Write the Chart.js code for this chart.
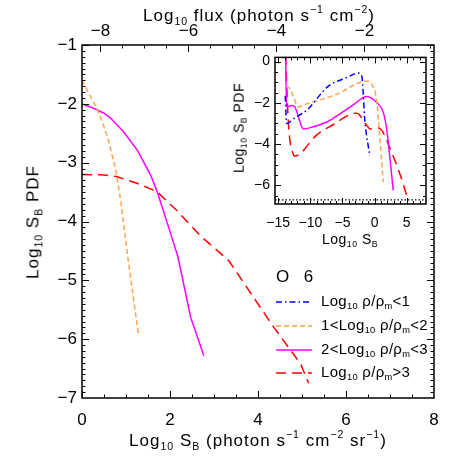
<!DOCTYPE html>
<html>
<head>
<meta charset="utf-8">
<script src="https://cdn.jsdelivr.net/npm/chart.js@4.4.1/dist/chart.umd.min.js"></script>
<style>
  body { margin: 0; background: #fff; }
  #wrap { position: relative; width: 458px; height: 458px; font-family: "Liberation Sans", Arial, sans-serif; color: #000; }
  canvas { position: absolute; }
  #main { left: 0; top: 0; }
  #inset { left: 228px; top: 44px; }
  .lbl { position: absolute; white-space: nowrap; font-size: 17px; line-height: 1; letter-spacing: 1px; }
  .lbl.small { font-size: 14px; letter-spacing: 0.5px; }
  .lbl.leg { font-size: 15px; letter-spacing: 0.3px; transform: translateY(-50%); }
  .lbl sub { font-size: 0.62em; vertical-align: -0.35em; }
  .lbl sup { font-size: 0.62em; vertical-align: 0.75em; }
  .ctr { transform: translate(-50%, -50%); }
  .rot { transform: translate(-50%, -50%) rotate(-90deg); }
</style>
</head>
<body>
<div id="wrap">
  <canvas id="main" width="458" height="458"></canvas>
  <canvas id="inset" width="210" height="190"></canvas>

  <div class="lbl ctr" style="left:259px; top:15px;">Log<sub>10</sub> flux (photon s<sup>−1</sup> cm<sup>−2</sup>)</div>
  <div class="lbl ctr" style="left:258px; top:440px;">Log<sub>10</sub> S<sub>B</sub> (photon s<sup>−1</sup> cm<sup>−2</sup> sr<sup>−1</sup>)</div>
  <div class="lbl rot" style="left:34px; top:222px;">Log<sub>10</sub> S<sub>B</sub> PDF</div>

  <div class="lbl small rot" style="left:240px; top:128px;">Log<sub>10</sub> S<sub>B</sub> PDF</div>
  <div class="lbl small ctr" style="left:350px; top:240px;">Log<sub>10</sub> S<sub>B</sub></div>

  <div class="lbl ctr" style="left:283px; top:276px;">O</div>
  <div class="lbl ctr" style="left:309px; top:276px;">6</div>
  <div id="legend"></div>
</div>

<script>
// ---- main panel (Log10 S_B vs Log10 PDF) ----
const mainSbOrange  = [0, 0.15, 0.3, 0.45, 0.6, 0.77, 0.88, 1.04, 1.15, 1.28];
const mainPdfOrange = [-1.6, -1.82, -2.02, -2.28, -2.62, -3.13, -3.64, -4.6, -5.2, -5.9];

const mainSbMagenta  = [0, 0.25, 0.5, 0.66, 0.95, 1.26, 1.56, 1.72, 1.97, 2.18, 2.47, 2.77];
const mainPdfMagenta = [-2.0, -2.07, -2.16, -2.25, -2.48, -2.79, -3.21, -3.52, -4.1, -4.6, -5.63, -6.28];

const mainSbRed  = [0, 0.5, 0.8, 1.25, 1.7, 2.15, 2.7, 3.33, 3.8, 4.36, 4.97, 5.15];
const mainPdfRed = [-3.2, -3.21, -3.24, -3.35, -3.49, -3.81, -4.25, -4.66, -5.18, -5.8, -6.42, -6.75];

// ---- inset (full S_B range) ----
const insetSbBlue  = [-13.9, -13.7, -12.4, -10.6, -7.2, -4.5, -2.55, -2.0, -1.5, -0.73];
const insetPdfBlue = [-1.66, -3.0, -2.72, -2.37, -1.19, -0.8, -0.56, -0.71, -2.92, -4.58];

const insetSbOrange  = [-13.8, -13.2, -12.5, -11.9, -11.0, -6.0, -1.24, -0.46, 0.32, 0.8, 1.34];
const insetPdfOrange = [-1.2, -1.3, -1.8, -2.2, -2.1, -1.6, -0.95, -1.1, -1.9, -3.6, -5.84];

const insetSbMagenta  = [-13.85, -13.7, -12.9, -12.4, -11.35, -11.1, -9.54, -7.46, -5.39, -3.32, -1.24, 0.32, 1.34, 1.87, 2.38, 2.9];
const insetPdfMagenta = [0.3, -2.2, -2.13, -2.21, -3.16, -3.27, -3.16, -2.93, -2.53, -2.1, -1.69, -1.98, -2.45, -3.24, -4.66, -6.24];

const insetSbRed  = [-13.85, -13.43, -12.65, -12.4, -9.0, -6.4, -3.57, -2.8, -1.24, -0.73, 0.32, 1.09, 2.38, 3.94, 5.23];
const insetPdfRed = [0.3, -2.92, -4.5, -4.58, -3.55, -3.05, -2.53, -2.5, -3.08, -3.27, -3.21, -3.32, -4.19, -5.45, -6.71];

const floorLevel = -6.7;

// ---- tick labels ----
const sbTicks      = [0, 2, 4, 6, 8];
const fluxTicks    = [-8, -6, -4, -2];
const pdfTicks     = [-7, -6, -5, -4, -3, -2, -1];
const insetSbTicks = [-15, -10, -5, 0, 5];
const insetPdfTicks = [0, -2, -4, -6];

const seriesLabels = [
  'Log<sub>10</sub> ρ/ρ<sub>m</sub>&lt;1',
  '1&lt;Log<sub>10</sub> ρ/ρ<sub>m</sub>&lt;2',
  '2&lt;Log<sub>10</sub> ρ/ρ<sub>m</sub>&lt;3',
  'Log<sub>10</sub> ρ/ρ<sub>m</sub>&gt;3'
];

const styles = [
  { color: '#0000ff', dash: [6, 3, 1.5, 3] },
  { color: '#ffa64d', dash: [5, 3] },
  { color: '#ff00ff', dash: [] },
  { color: '#ff0000', dash: [10, 6] }
];

const FONT = '"Liberation Sans", Arial, sans-serif';
const pts = (xs, ys) => xs.map((x, i) => ({ x: x, y: ys[i] }));
const fmt = v => String(v).replace('-', '\u2212');

function steps(a, b, step) {
  const out = [];
  for (let v = a; v <= b + 1e-9; v += step) out.push(+v.toFixed(3));
  return out;
}

function lineSet(xs, ys, st, smooth) {
  return {
    data: pts(xs, ys),
    borderColor: st.color,
    borderDash: st.dash,
    borderWidth: 1.5,
    pointRadius: 0,
    fill: false,
    tension: 0,
    cubicInterpolationMode: smooth ? 'monotone' : 'default'
  };
}

// frame + inward tick marks, IDL style
const frameTicks = {
  id: 'frameTicks',
  afterDraw(chart, args, opts) {
    const { ctx, chartArea: a } = chart;
    ctx.save();
    ctx.strokeStyle = '#000';
    ctx.lineWidth = opts.lw;
    ctx.setLineDash([]);
    ctx.strokeRect(a.left, a.top, a.right - a.left, a.bottom - a.top);
    ctx.lineWidth = 1;
    opts.marks.forEach(m => {
      const s = chart.scales[m.scale];
      [[m.major, opts.major], [m.minor, opts.minor]].forEach(([vals, len]) => {
        vals.forEach(v => {
          const p = Math.round(s.getPixelForValue(v)) + 0.5;
          m.sides.forEach(side => {
            ctx.beginPath();
            if (side === 'bottom') { if (p < a.left || p > a.right) return; ctx.moveTo(p, a.bottom); ctx.lineTo(p, a.bottom - len); }
            if (side === 'top')    { if (p < a.left || p > a.right) return; ctx.moveTo(p, a.top); ctx.lineTo(p, a.top + len); }
            if (side === 'left')   { if (p < a.top || p > a.bottom) return; ctx.moveTo(a.left, p); ctx.lineTo(a.left + len, p); }
            if (side === 'right')  { if (p < a.top || p > a.bottom) return; ctx.moveTo(a.right, p); ctx.lineTo(a.right - len, p); }
            ctx.stroke();
          });
        });
      });
    });
    // legend samples
    (opts.legend || []).forEach((y, i) => {
      ctx.beginPath();
      ctx.strokeStyle = styles[i].color;
      ctx.lineWidth = 1.5;
      ctx.setLineDash(styles[i].dash);
      ctx.moveTo(276, y);
      ctx.lineTo(312, y);
      ctx.stroke();
    });
    ctx.restore();
  }
};

function axis(pos, min, max, ticks, size, pad, fontSize) {
  return {
    type: 'linear',
    position: pos,
    min: min,
    max: max,
    grid: { display: false, drawTicks: false },
    border: { display: false },
    afterBuildTicks: s => { s.ticks = ticks.map(v => ({ value: v })); },
    afterFit: s => {
      if (pos === 'left') s.width = size; else s.height = size;
    },
    ticks: {
      autoSkip: false,
      maxRotation: 0,
      padding: pad,
      color: '#000',
      font: { family: FONT, size: fontSize },
      callback: fmt
    }
  };
}

const legendRows = [302, 326, 350, 373];

new Chart(document.getElementById('main'), {
  type: 'line',
  data: {
    datasets: [
      lineSet(mainSbOrange, mainPdfOrange, styles[1], false),
      lineSet(mainSbMagenta, mainPdfMagenta, styles[2], false),
      lineSet(mainSbRed, mainPdfRed, styles[3], false)
    ]
  },
  options: {
    responsive: false,
    animation: false,
    devicePixelRatio: 1,
    layout: { padding: { left: 0, right: 24, top: 0, bottom: 0 } },
    plugins: {
      legend: { display: false },
      tooltip: { enabled: false },
      frameTicks: {
        lw: 1.5, major: 7, minor: 3.5,
        legend: legendRows,
        marks: [
          { scale: 'x', sides: ['bottom'], major: sbTicks, minor: steps(0, 8, 0.5) },
          { scale: 'x2', sides: ['top'], major: fluxTicks, minor: steps(-8, -0.5, 0.5) },
          { scale: 'y', sides: ['left', 'right'], major: pdfTicks, minor: steps(-7, -1, 0.1) }
        ]
      }
    },
    scales: {
      x: axis('bottom', 0, 8, sbTicks, 60, 12, 17),
      x2: axis('top', -8.42, -0.42, fluxTicks, 45, 3, 17),
      y: axis('left', -7, -1, pdfTicks, 82, 5, 17)
    }
  },
  plugins: [frameTicks]
});

new Chart(document.getElementById('inset'), {
  type: 'line',
  data: {
    datasets: [
      lineSet(insetSbBlue, insetPdfBlue, styles[0], true),
      lineSet(insetSbOrange, insetPdfOrange, styles[1], true),
      lineSet(insetSbMagenta, insetPdfMagenta, styles[2], true),
      lineSet(insetSbRed, insetPdfRed, styles[3], true),
      {
        data: pts([-15.5, 8], [floorLevel, floorLevel]),
        borderColor: '#000', borderDash: [1.5, 2], borderWidth: 1.2, pointRadius: 0, fill: false
      }
    ]
  },
  options: {
    responsive: false,
    animation: false,
    devicePixelRatio: 1,
    layout: { padding: { left: 0, right: 12, top: 10, bottom: 0 } },
    plugins: {
      legend: { display: false },
      tooltip: { enabled: false },
      frameTicks: {
        lw: 1.5, major: 6, minor: 3,
        marks: [
          { scale: 'x', sides: ['bottom', 'top'], major: insetSbTicks, minor: steps(-15, 8, 1) },
          { scale: 'y', sides: ['left', 'right'], major: insetPdfTicks, minor: steps(-6.5, 0, 0.5) }
        ]
      }
    },
    scales: {
      x: axis('bottom', -15.5, 8, insetSbTicks, 30, 11, 14),
      y: axis('left', -6.9, 0.2, insetPdfTicks, 47, 5, 14)
    }
  },
  plugins: [frameTicks]
});

// legend text
const legendBox = document.getElementById('legend');
seriesLabels.forEach((html, i) => {
  const d = document.createElement('div');
  d.className = 'lbl leg';
  d.style.left = '321px';
  d.style.top = legendRows[i] + 'px';
  d.innerHTML = html;
  legendBox.appendChild(d);
});
</script>
</body>
</html>
